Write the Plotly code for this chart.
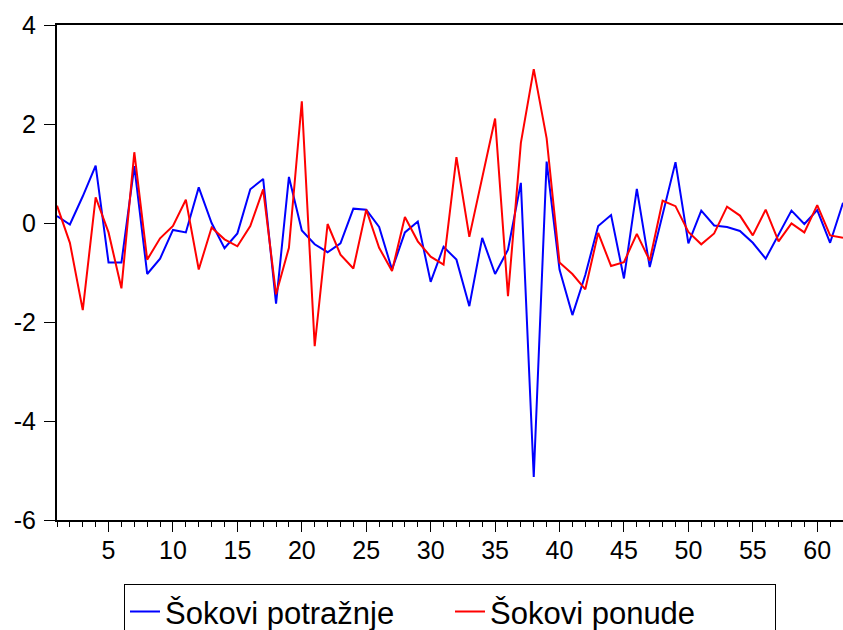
import plotly.graph_objects as go

periods = list(range(1, 63))

demand_shocks = [
    0.14, -0.03, 0.54, 1.16, -0.80, -0.80, 1.15, -1.03, -0.72, -0.14,
    -0.19, 0.72, 0.00, -0.51, -0.21, 0.68, 0.89, -1.63, 0.93, -0.15,
    -0.43, -0.59, -0.41, 0.29, 0.27, -0.08, -0.94, -0.19, 0.03, -1.19,
    -0.48, -0.74, -1.68, -0.30, -1.03, -0.54, 0.81, -5.13, 1.24, -0.94,
    -1.86, -1.05, -0.06, 0.16, -1.12, 0.69, -0.89, 0.20, 1.23, -0.41,
    0.25, -0.05, -0.08, -0.16, -0.40, -0.72, -0.23, 0.25, -0.02, 0.26,
    -0.40, 0.41,
]

supply_shocks = [
    0.35, -0.40, -1.76, 0.52, -0.19, -1.32, 1.43, -0.74, -0.31, -0.06,
    0.47, -0.94, -0.09, -0.33, -0.47, -0.06, 0.68, -1.44, -0.50, 2.46,
    -2.49, -0.02, -0.64, -0.92, 0.27, -0.50, -0.97, 0.12, -0.37, -0.68,
    -0.84, 1.33, -0.28, 0.88, 2.11, -1.48, 1.62, 3.11, 1.71, -0.80,
    -1.03, -1.34, -0.20, -0.87, -0.79, -0.22, -0.76, 0.45, 0.34, -0.18,
    -0.43, -0.21, 0.33, 0.15, -0.25, 0.27, -0.37, -0.01, -0.19, 0.36,
    -0.25, -0.30,
]

x_tick_vals = [5, 10, 15, 20, 25, 30, 35, 40, 45, 50, 55, 60]
x_tick_text = ["5", "10", "15", "20", "25", "30", "35", "40", "45", "50", "55", "60"]
y_tick_vals = [-6, -4, -2, 0, 2, 4]
y_tick_text = ["-6", "-4", "-2", "0", "2", "4"]
series_names = ["Šokovi potražnje", "Šokovi ponude"]

FONT = "Liberation Sans, Arial, sans-serif"

fig = go.Figure()
fig.add_trace(go.Scatter(x=periods, y=demand_shocks, mode="lines",
                         name=series_names[0],
                         line=dict(color="#0000FF", width=2)))
fig.add_trace(go.Scatter(x=periods, y=supply_shocks, mode="lines",
                         name=series_names[1],
                         line=dict(color="#FF0000", width=2)))

fig.update_layout(
    width=843, height=630,
    margin=dict(l=57, r=0, t=25, b=110, autoexpand=False),
    paper_bgcolor="white", plot_bgcolor="white",
    font=dict(family=FONT, color="black", size=24),
    showlegend=True,
    legend=dict(
        orientation="h",
        x=0.5, xanchor="center",
        y=-0.129, yanchor="top",
        bordercolor="black", borderwidth=1,
        font=dict(family=FONT, size=31, color="black"),
        entrywidth=280,
        bgcolor="white",
    ),
    xaxis=dict(
        range=[1, 62],
        tickvals=x_tick_vals, ticktext=x_tick_text,
        ticks="outside", ticklen=10, tickwidth=1, tickcolor="black",
        showline=True, linecolor="black", linewidth=2, mirror=True,
        showgrid=False, zeroline=False, automargin=False,
        ticklabelstandoff=-3,
        tickfont=dict(family=FONT, size=25, color="black"),
        minor=dict(dtick=1, tick0=0, ticks="outside", ticklen=5,
                   tickwidth=1, tickcolor="black", showgrid=False),
    ),
    yaxis=dict(
        range=[-6, 4],
        tickvals=y_tick_vals, ticktext=y_tick_text,
        ticks="outside", ticklen=11, tickwidth=1, tickcolor="black",
        showline=True, linecolor="black", linewidth=2,
        showgrid=False, zeroline=False, automargin=False,
        ticklabelstandoff=3,
        tickfont=dict(family=FONT, size=25, color="black"),
    ),
)

fig.write_html(
    "out.html",
    config={"displayModeBar": False},
    post_script="document.body.style.margin='0';document.body.style.overflow='hidden';",
)
